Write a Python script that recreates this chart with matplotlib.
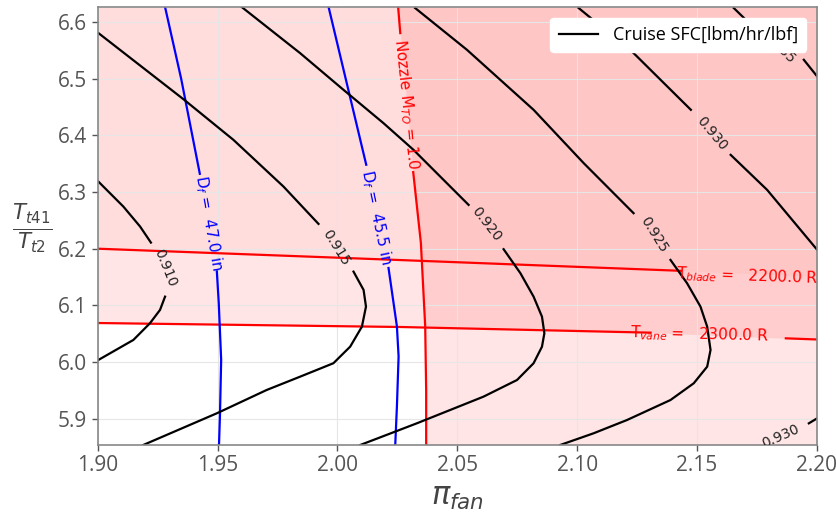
import matplotlib
matplotlib.use("Agg")
import matplotlib.pyplot as plt

plt.rcParams['font.family'] = ['Open Sans', 'DejaVu Sans']
plt.rcParams['mathtext.fontset'] = 'dejavusans'

# ---- data ----
x_lim = (1.90, 2.20)
y_lim = (5.854, 6.626)
x_ticks = [1.90, 1.95, 2.00, 2.05, 2.10, 2.15, 2.20]
y_ticks = [5.9, 6.0, 6.1, 6.2, 6.3, 6.4, 6.5, 6.6]

# constraint lines
blade_x = [1.900, 2.0261, 2.1433]
blade_y = [6.200, 6.180, 6.161]
blade_end_y = 6.151
vane_x1 = [1.900, 2.0262, 2.1306]
vane_y1 = [6.069, 6.062, 6.052]
vane_x2 = [2.1870, 2.2000]
vane_y2 = [6.042, 6.040]
nozzle_x1 = [2.0253, 2.0262]
nozzle_y1 = [6.626, 6.580]
nozzle_x2 = [2.0316, 2.0348, 2.0366, 2.0370, 2.0370]
nozzle_y2 = [6.335, 6.210, 6.063, 5.950, 5.854]

# fan diameter lines
d47_x1 = [1.9281, 1.9348, 1.9426]
d47_y1 = [6.626, 6.500, 6.332]
d47_x2 = [1.9497, 1.9505, 1.9515, 1.9510, 1.9506]
d47_y2 = [6.160, 6.104, 6.004, 5.907, 5.854]
d455_x1 = [1.9963, 2.0120]
d455_y1 = [6.626, 6.348]
d455_x2 = [2.0213, 2.0248, 2.0255, 2.0248, 2.0241]
d455_y2 = [6.166, 6.063, 6.010, 5.922, 5.854]

# cruise SFC contours (segments split where the inline label sits)
sfc_levels = ['0.910', '0.915', '0.920', '0.925', '0.930', '0.930', '0.935']
sfc_x1 = [[1.9003, 1.9107, 1.9177, 1.9222],
          [1.9003, 1.9361, 1.9566, 1.9775, 1.9921],
          [1.9601, 1.9844, 2.0025, 2.0192, 2.0317, 2.0547],
          [2.0324, 2.0540, 2.0818, 2.1027, 2.1235],
          [2.1006, 2.1235, 2.1474],
          [],
          [2.1653, 2.1760]]
sfc_y1 = [[6.3183, 6.2743, 6.2390, 6.2108],
          [6.5801, 6.4624, 6.3919, 6.3095, 6.2437],
          [6.6259, 6.5448, 6.4801, 6.4213, 6.3743, 6.2772],
          [6.6242, 6.5506, 6.4448, 6.3508, 6.2626],
          [6.6242, 6.5448, 6.4448],
          [],
          [6.6242, 6.5800]]
sfc_x2 = [[1.9281, 1.9260, 1.9218, 1.9149, 1.9003],
          [2.0067, 2.0109, 2.0119, 2.0102, 2.0053, 1.9983, 1.9844, 1.9705, 1.9497, 1.9190],
          [2.0693, 2.0763, 2.0818, 2.0853, 2.0863, 2.0853, 2.0818, 2.0749, 2.0609, 2.0470,
           2.0331, 2.0095],
          [2.1389, 2.1458, 2.1514, 2.1542, 2.1556, 2.1542, 2.1486, 2.1389, 2.1208, 2.1068,
           2.0929],
          [2.1640, 2.1792, 2.2001],
          [2.1966, 2.2001],
          [2.1945, 2.2001]]
sfc_y2 = [[6.1155, 6.0921, 6.0686, 6.0392, 6.0039],
          [6.1596, 6.1273, 6.0979, 6.0626, 6.0273, 5.9981, 5.9744, 5.9510, 5.9099, 5.8540],
          [6.1991, 6.1568, 6.1155, 6.0802, 6.0510, 6.0273, 5.9981, 5.9686, 5.9392, 5.9157,
           5.8922, 5.8540],
          [6.1802, 6.1392, 6.0979, 6.0626, 6.0215, 5.9921, 5.9628, 5.9333, 5.8981, 5.8746,
           5.8540],
          [6.3654, 6.3037, 6.1979],
          [5.8922, 5.9011],
          [6.5330, 6.5035]]
sfc_lab_x = [1.9281, 1.9995, 2.0620, 2.1320, 2.1562, 2.1850, 2.1843]
sfc_lab_y = [6.1662, 6.2010, 6.2437, 6.2250, 6.4037, 5.8690, 6.5559]
sfc_lab_rot = [-68, -58, -52, -58, -50, 24, -45]

fig = plt.figure(figsize=(8.37, 5.16), dpi=100)
ax = fig.add_axes([0.1167, 0.1376, 0.8594, 0.8488])
ax.set_xlim(*x_lim)
ax.set_ylim(*y_lim)

# infeasible regions
ax.fill_between(vane_x1 + vane_x2, vane_y1 + vane_y2, y_lim[1], color='red', alpha=0.10, lw=0, zorder=0)
ax.fill_between(blade_x + [x_lim[1]], blade_y + [blade_end_y], y_lim[1], color='red', alpha=0.03, lw=0, zorder=0)
ax.fill_betweenx(nozzle_y1 + nozzle_y2, nozzle_x1 + nozzle_x2, x_lim[1], color='red', alpha=0.10, lw=0, zorder=0)

ax.grid(True, color='#e6e6e6', lw=0.8, zorder=0.5)

# constraint lines
rc = '#ff0000'
ax.plot(blade_x, blade_y, color=rc, lw=1.6)
ax.plot(vane_x1, vane_y1, color=rc, lw=1.6)
ax.plot(vane_x2, vane_y2, color=rc, lw=1.6)
ax.plot(nozzle_x1, nozzle_y1, color=rc, lw=1.6)
ax.plot(nozzle_x2, nozzle_y2, color=rc, lw=1.6)
ax.text(2.1710, 6.152, r'T$_{blade}$ =   2200.0 R', color=rc, fontsize=11, rotation=-2,
        ha='center', va='center', family=['DejaVu Sans'])
ax.text(2.1510, 6.048, r'T$_{vane}$ =   2300.0 R', color=rc, fontsize=11, rotation=-1.5,
        ha='center', va='center', family=['DejaVu Sans'])
ax.text(2.0287, 6.455, r'Nozzle M$_{TO}$ = 1.0', color=rc, fontsize=11, rotation=-84,
        ha='center', va='center', family=['DejaVu Sans'])

# diameter lines
bc = '#0000ff'
for xs, ys in [(d47_x1, d47_y1), (d47_x2, d47_y2), (d455_x1, d455_y1), (d455_x2, d455_y2)]:
    ax.plot(xs, ys, color=bc, lw=1.6)
ax.text(1.9463, 6.245, r'D$_f$ =  47.0 in', color=bc, fontsize=11, rotation=-80,
        ha='center', va='center', family=['DejaVu Sans'])
ax.text(2.0163, 6.256, r'D$_f$ =  45.5 in', color=bc, fontsize=11, rotation=-78,
        ha='center', va='center', family=['DejaVu Sans'])

# SFC contours
for i in range(len(sfc_levels)):
    lab = 'Cruise SFC[lbm/hr/lbf]' if i == 0 else None
    if sfc_x1[i]:
        ax.plot(sfc_x1[i], sfc_y1[i], color='black', lw=1.6, label=lab)
    ax.plot(sfc_x2[i], sfc_y2[i], color='black', lw=1.6)
    ax.text(sfc_lab_x[i], sfc_lab_y[i], sfc_levels[i], fontsize=10, rotation=sfc_lab_rot[i],
            ha='center', va='center', color='#222222', family=['DejaVu Sans'], clip_on=True)

leg = ax.legend(loc='upper right', fontsize=13, framealpha=1.0, edgecolor='white',
                fancybox=True, borderpad=0.45, handlelength=2.2, borderaxespad=0.6)
leg.set_zorder(10)

ax.set_xticks(x_ticks)
ax.set_xticklabels(['%.2f' % v for v in x_ticks])
ax.set_yticks(y_ticks)
ax.set_yticklabels(['%.1f' % v for v in y_ticks])
ax.tick_params(labelsize=15, colors='#555555', length=4, width=1)
for s in ax.spines.values():
    s.set_color('#888888')
    s.set_linewidth(1.2)

ax.set_xlabel(r'$\pi_{fan}$', fontsize=22, color='#444444', labelpad=4)
ax.set_ylabel(r'$\frac{T_{t41}}{T_{t2}}$', fontsize=22, color='#444444', rotation=0,
              ha='center', va='center')
ax.yaxis.set_label_coords(-0.091, 0.495)

fig.savefig('out.png', dpi=100)
